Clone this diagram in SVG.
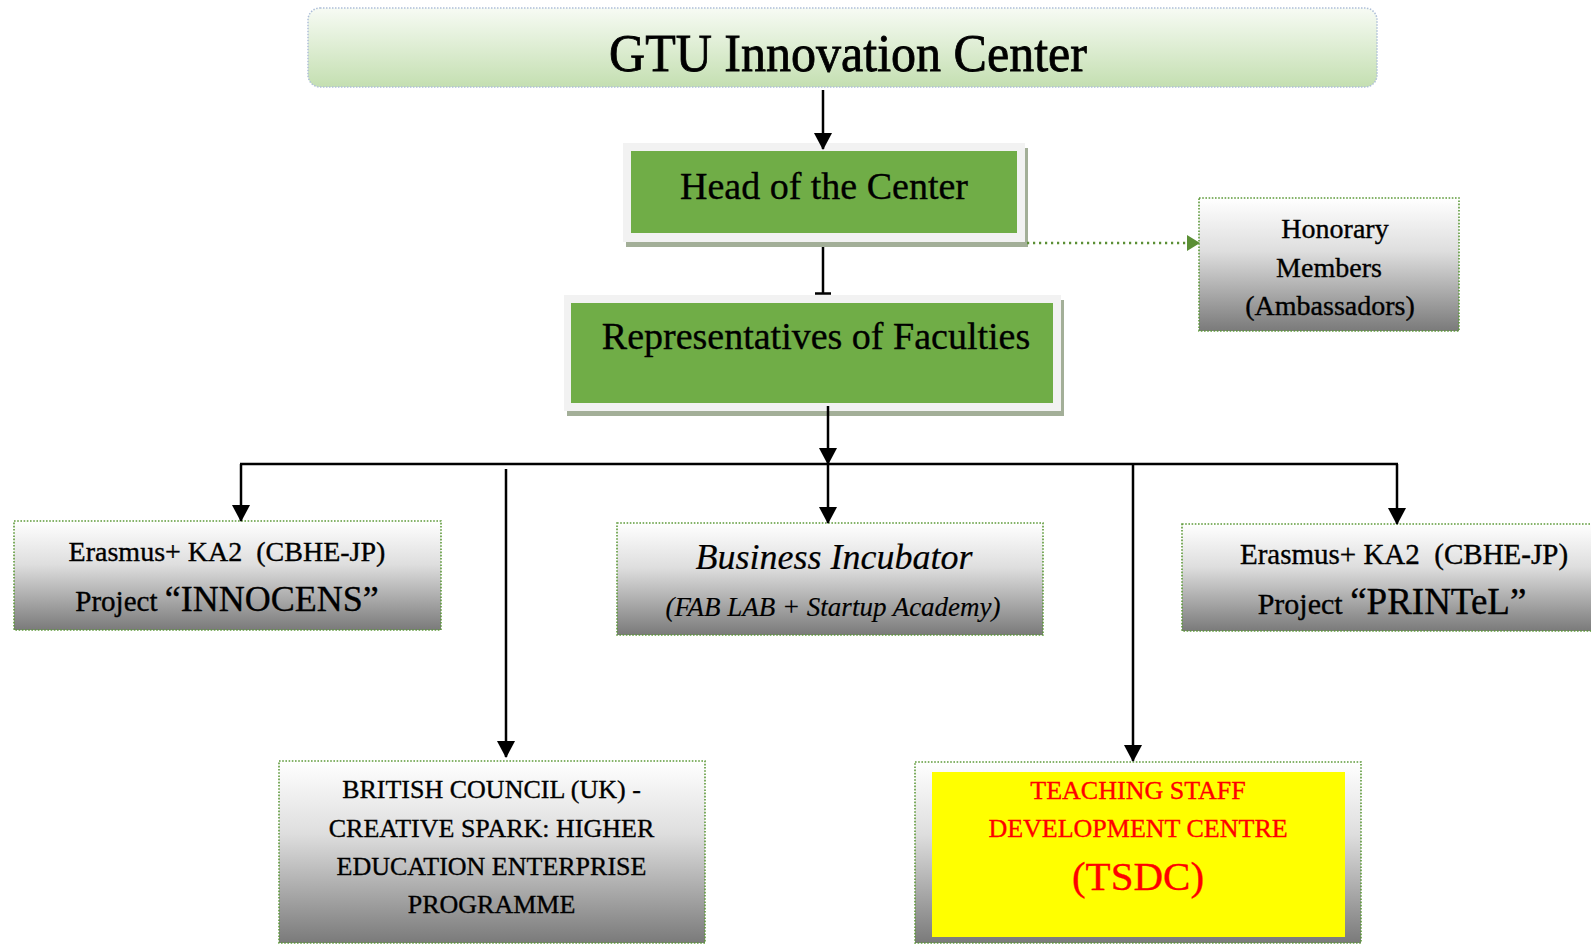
<svg xmlns="http://www.w3.org/2000/svg" width="1591" height="945" viewBox="0 0 1591 945">
<defs>
<linearGradient id="gTitle" x1="0" y1="0" x2="0" y2="1">
<stop offset="0" stop-color="#f7fbf4"/>
<stop offset="1" stop-color="#c4dfb1"/>
</linearGradient>
<linearGradient id="gGray" x1="0" y1="0" x2="0" y2="1">
<stop offset="0" stop-color="#ffffff"/>
<stop offset="0.4" stop-color="#dedede"/>
<stop offset="1" stop-color="#7a7a7a"/>
</linearGradient>
<marker id="arr" markerUnits="userSpaceOnUse" markerWidth="20" markerHeight="20" refX="16" refY="9" orient="auto">
<path d="M0,0 L17,9 L0,18 z" fill="#000"/>
</marker>
<marker id="arrG" markerUnits="userSpaceOnUse" markerWidth="14" markerHeight="16" refX="12" refY="8" orient="auto">
<path d="M0,0 L13,8 L0,16 z" fill="#5b8f35"/>
</marker>
<style>
text{font-family:"Liberation Serif","Times New Roman",serif;fill:#000;stroke:#000;stroke-width:0.35}
.box{fill:url(#gGray);stroke:#5e9a3a;stroke-width:1.6;stroke-dasharray:1.6 1.6}
.frame{fill:#f2f2f2}
.shadow{fill:#a3af98}
.green{fill:#70ad47}
.conn{stroke:#000;stroke-width:2.5;fill:none}
.mid{text-anchor:middle}
.red{fill:#ff0000;stroke:#ff0000}
</style>
</defs>

<g id="title">
<rect x="308" y="8" width="1069" height="79" rx="12" fill="url(#gTitle)" stroke="#aebfd9" stroke-width="1.5" stroke-dasharray="1.5 1.5"/>
<text class="mid" x="848" y="71" font-size="53" textLength="478" lengthAdjust="spacingAndGlyphs" style="stroke-width:0.8">GTU Innovation Center</text>
</g>

<g id="head">
<rect class="shadow" x="626" y="148" width="402" height="99"/>
<rect class="frame" x="623" y="143" width="402" height="99"/>
<rect class="green" x="631" y="151" width="386" height="82"/>
<text class="mid" x="824" y="199" font-size="38">Head of the Center</text>
</g>

<g id="representatives">
<rect class="shadow" x="567" y="300" width="497" height="116"/>
<rect class="frame" x="564" y="295" width="497" height="116"/>
<rect class="green" x="571" y="303" width="482" height="100"/>
<text class="mid" x="816" y="349" font-size="38">Representatives of Faculties</text>
</g>

<g id="honorary">
<rect class="box" x="1199" y="198" width="260" height="133"/>
<text class="mid" x="1335" y="238" font-size="28">Honorary</text>
<text class="mid" x="1329" y="277" font-size="28">Members</text>
<text class="mid" x="1330" y="315" font-size="28">(Ambassadors)</text>
</g>

<g id="innocens">
<rect class="box" x="14" y="521" width="427" height="109"/>
<text class="mid" x="227" y="561" font-size="28">Erasmus+ KA2 <tspan>&#160;</tspan>(CBHE-JP)</text>
<text class="mid" x="227" y="611"><tspan font-size="29">Project </tspan><tspan font-size="36">“INNOCENS”</tspan></text>
</g>

<g id="business">
<rect class="box" x="617" y="523" width="426" height="112"/>
<text class="mid" x="834" y="569" font-size="36" font-style="italic" style="stroke-width:0.2">Business Incubator</text>
<text class="mid" x="833" y="616" font-size="27" font-style="italic" style="stroke-width:0.15">(FAB LAB + Startup Academy)</text>
</g>

<g id="printel">
<rect class="box" x="1182" y="524" width="420" height="107"/>
<text class="mid" x="1404" y="564" font-size="29">Erasmus+ KA2 <tspan>&#160;</tspan>(CBHE-JP)</text>
<text class="mid" x="1392" y="614"><tspan font-size="30">Project </tspan><tspan font-size="37">“PRINTeL”</tspan></text>
</g>

<g id="british">
<rect class="box" x="279" y="761" width="426" height="182"/>
<text class="mid" x="491.5" y="798" font-size="26">BRITISH COUNCIL (UK) -</text>
<text class="mid" x="491.5" y="837" font-size="26">CREATIVE SPARK: HIGHER</text>
<text class="mid" x="491.5" y="875" font-size="26">EDUCATION ENTERPRISE</text>
<text class="mid" x="491.5" y="913" font-size="26">PROGRAMME</text>
</g>

<g id="tsdc">
<rect class="box" x="915" y="762" width="446" height="181"/>
<rect x="932" y="772" width="413" height="165" fill="#ffff00"/>
<text class="mid red" x="1138" y="799" font-size="26">TEACHING STAFF</text>
<text class="mid red" x="1138" y="837" font-size="26">DEVELOPMENT CENTRE</text>
<text class="mid red" x="1138" y="890" font-size="41">(TSDC)</text>
</g>

<g id="connectors">
<path class="conn" d="M823 90 V149" marker-end="url(#arr)"/>
<path class="conn" d="M823 247 V293"/>
<path class="conn" d="M815 293.5 H831" stroke-width="2"/>
<path d="M1027 243 H1199" stroke="#5b8f35" stroke-width="2.5" stroke-dasharray="2.2 3.8" fill="none" marker-end="url(#arrG)"/>
<path class="conn" d="M828 406 V464" marker-end="url(#arr)"/>
<path class="conn" d="M240 464 H1398" stroke-width="2"/>
<path class="conn" d="M241 464 V521" marker-end="url(#arr)"/>
<path class="conn" d="M506 469 V757" marker-end="url(#arr)"/>
<path class="conn" d="M828 464 V523" marker-end="url(#arr)"/>
<path class="conn" d="M1133 464 V761" marker-end="url(#arr)"/>
<path class="conn" d="M1397 464 V524" marker-end="url(#arr)"/>
</g>
</svg>
